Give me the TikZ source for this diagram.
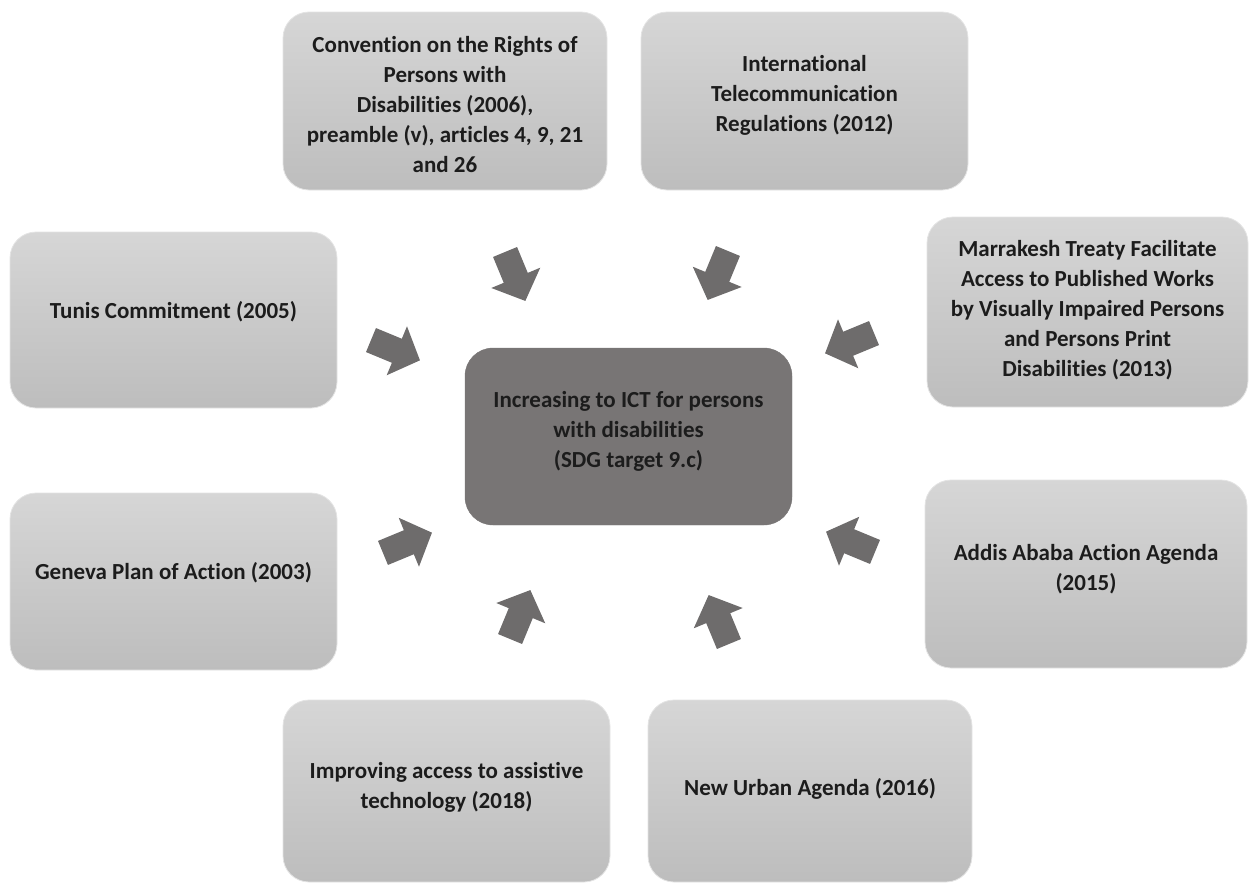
\documentclass[tikz,border=0pt]{standalone}
\usepackage{fontspec}
\setmainfont{Carlito}[Ligatures=NoCommon]
\definecolor{boxtop}{HTML}{D6D6D6}
\definecolor{boxbot}{HTML}{BDBDBD}
\definecolor{boxedge}{HTML}{E4E4E4}
\definecolor{hubfill}{HTML}{787575}
\definecolor{arrowfill}{HTML}{6E6C6C}
\definecolor{textcol}{HTML}{1C1C1C}
\begin{document}
\begin{tikzpicture}[x=1pt,y=-1pt,
  srcbox/.style={rectangle, rounded corners=26pt, top color=boxtop, bottom color=boxbot,
    draw=boxedge, line width=0.8pt, inner sep=0pt},
  hubbox/.style={rectangle, rounded corners=28pt, fill=hubfill, draw=hubfill, inner sep=0pt},
  boxtext/.style={align=center, font=\bfseries\fontsize{23}{30}\selectfont, text=textcol, inner sep=0pt},
  pics/blockarrow/.style={code={
    \fill[arrowfill] (-26,-13) -- (2,-13) -- (2,-26.5) -- (27,0) -- (2,26.5) -- (2,13) -- (-26,13) -- cycle;}}
]
\useasboundingbox (0,0) rectangle (1250,886);

% central target
\node[hubbox, minimum width=327pt, minimum height=177pt] (hub) at (628.5,436.5) {};
\node[boxtext] (hubtext) at ([yshift=5pt]hub.center)
  {Increasing to ICT for persons\\with disabilities\\(SDG target 9.c)};

% surrounding instruments
\node[srcbox, minimum width=324pt, minimum height=178pt] (conv) at (445,101) {};
\node[boxtext] (convtext) at ([yshift=-4pt]conv.center)
  {Convention on the Rights of\\Persons with\\Disabilities (2006),\\preamble (v), articles 4, 9, 21\\and 26};

\node[srcbox, minimum width=327pt, minimum height=178pt] (itr) at (804.5,101) {};
\node[boxtext] (itrtext) at ([yshift=6pt]itr.center)
  {International\\Telecommunication\\Regulations (2012)};

\node[srcbox, minimum width=321pt, minimum height=190pt] (marr) at (1087.5,312) {};
\node[boxtext] (marrtext) at ([yshift=2pt]marr.center)
  {Marrakesh Treaty Facilitate\\Access to Published Works\\by Visually Impaired Persons\\and Persons Print\\Disabilities (2013)};

\node[srcbox, minimum width=327pt, minimum height=176pt] (tunis) at (173.5,320) {};
\node[boxtext] (tunistext) at ([yshift=8pt]tunis.center) {Tunis Commitment (2005)};

\node[srcbox, minimum width=327pt, minimum height=177pt] (geneva) at (173.5,581.5) {};
\node[boxtext] (genevatext) at ([yshift=9pt]geneva.center) {Geneva Plan of Action (2003)};

\node[srcbox, minimum width=322pt, minimum height=188pt] (addis) at (1086,574) {};
\node[boxtext] (addistext) at ([yshift=5pt]addis.center) {Addis Ababa Action Agenda\\(2015)};

\node[srcbox, minimum width=327pt, minimum height=182pt] (assist) at (446.5,791) {};
\node[boxtext] (assisttext) at ([yshift=4pt]assist.center) {Improving access to assistive\\technology (2018)};

\node[srcbox, minimum width=324pt, minimum height=182pt] (urban) at (810,791) {};
\node[boxtext] (urbantext) at ([yshift=2pt]urban.center) {New Urban Agenda (2016)};

% block arrows converging on the target
\pic[rotate=292.5] (a1) at (515,276) {blockarrow};
\pic[rotate=247.5] (a2) at (718,275) {blockarrow};
\pic[rotate=202.5] (a3) at (850,343) {blockarrow};
\pic[rotate=337.5] (a4) at (395,350) {blockarrow};
\pic[rotate=22.5]  (a5) at (407,543) {blockarrow};
\pic[rotate=67.5]  (a6) at (520,615) {blockarrow};
\pic[rotate=112.5] (a7) at (719,620) {blockarrow};
\pic[rotate=157.5] (a8) at (851,542) {blockarrow};
\end{tikzpicture}
\end{document}
